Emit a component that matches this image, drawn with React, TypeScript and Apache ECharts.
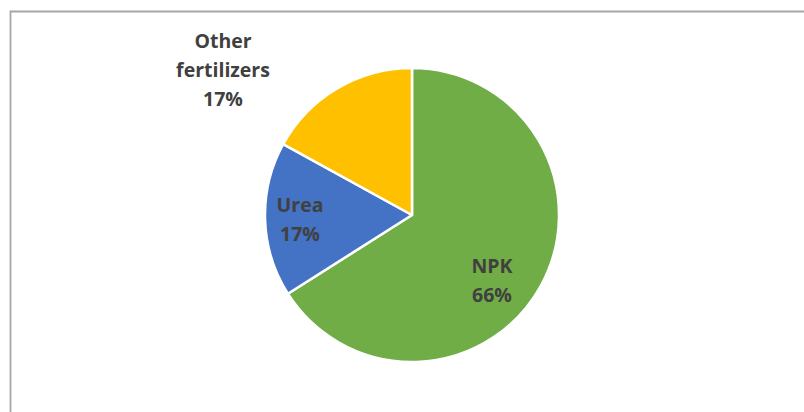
import React, { useEffect, useRef } from "react";
import * as echarts from "echarts";

const categories = ["NPK", "Urea", "Other fertilizers"];
const shares = [66, 17, 17];
const colors = ["#70ad47", "#4472c4", "#ffc000"];
const labelTexts = ["NPK", "Urea", "Other\nfertilizers"];

export default function App() {
  const ref = useRef<HTMLDivElement>(null);
  useEffect(() => {
    document.body.style.margin = "0";
    if (!ref.current) return;
    const chart = echarts.init(ref.current, undefined, { renderer: "svg" });
    const labelPos: Record<number, [number, number]> = {
      0: [492, 280],
      1: [300, 219],
      2: [223, 69],
    };
    chart.setOption({
      animation: false,
      backgroundColor: "#ffffff",
      graphic: [
        {
          type: "rect",
          shape: { x: 10.5, y: 11.5, width: 900, height: 500 },
          style: { fill: "none", stroke: "#a6a6a6", lineWidth: 1.8 },
          silent: true,
        },
      ],
      series: [
        {
          type: "pie",
          center: [412, 215],
          radius: 147,
          startAngle: 90,
          clockwise: true,
          avoidLabelOverlap: false,
          itemStyle: { borderColor: "#ffffff", borderWidth: 2.5 },
          label: {
            show: true,
            position: "inside",
            formatter: (p: any) => `${labelTexts[p.dataIndex]}\n${p.value}%`,
            color: "#404040",
            fontFamily: "Open Sans",
            fontWeight: "bold",
            fontSize: 19.5,
            lineHeight: 29,
            align: "center",
          },
          labelLine: { show: false },
          labelLayout: (params: any) => {
            const pos = labelPos[params.dataIndex];
            return { x: pos[0], y: pos[1], align: "center", verticalAlign: "middle" };
          },
          data: categories.map((c, i) => ({
            name: c,
            value: shares[i],
            itemStyle: { color: colors[i] },
          })),
        },
      ],
    });
    return () => chart.dispose();
  }, []);
  return (
    <div
      ref={ref}
      style={{ position: "absolute", left: 0, top: 0, width: 804, height: 412 }}
    />
  );
}
